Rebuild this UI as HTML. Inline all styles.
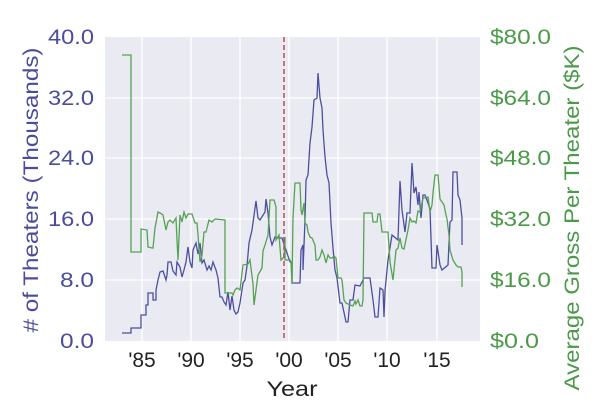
<!DOCTYPE html>
<html><head><style>body{margin:0;background:#fff}svg{display:block}text{font-family:"Liberation Sans",Arial,sans-serif}</style></head>
<body>
<svg width="600" height="420" viewBox="0 0 600 420">
<rect x="105" y="37" width="375" height="304" fill="#eaeaf2"/>
<g stroke="#fff" stroke-width="1.3">
<line x1="105" x2="480" y1="98" y2="98"/><line x1="105" x2="480" y1="158" y2="158"/><line x1="105" x2="480" y1="219" y2="219"/><line x1="105" x2="480" y1="280" y2="280"/>
<line x1="142" x2="142" y1="37" y2="341"/><line x1="191" x2="191" y1="37" y2="341"/><line x1="240" x2="240" y1="37" y2="341"/><line x1="289" x2="289" y1="37" y2="341"/><line x1="338" x2="338" y1="37" y2="341"/><line x1="387" x2="387" y1="37" y2="341"/><line x1="437" x2="437" y1="37" y2="341"/>
</g>
<polyline fill="none" stroke="#4c4fa0" stroke-width="1.3" points="122,333 131,333 131,328 141,328 141,315 146,315 146,305 148,305 148,293 153,293 153,300 156,300 156,290 158,280 160,272 163,271 166,280 167,275 168,262 171,262 173,271 176,275 177,262 180,267 182,277 184,270 186,262 188,247 190,262 192,268 193,250 196,243 198,254 200,243 202,263 204,260 207,270 209,266 211,270 213,262 216,270 218,278 220,297 222,297 224,302 226,305 228,292 230,310 232,296 234,310 236,314 238,312 240,303 243,283 245,280 247,266 249,243 252,230 256,201 258,218 260,220 265,212 266,199 268,213 270,237 272,245 275,237 278,238 282,238 286,250 290,262 292,262 292,283 300,283 301,250 303,245 303,270 305,220 306,180 308,175 310,143 312,127 314,100 317,98 318,73 320,98 322,108 323,130 325,157 327,175 329,183 331,223 333,248 335,270 337,278 340,303 342,303 346,322 348,322 350,300 353,300 355,285 360,286 364,278 370,278 373,300 375,317 378,317 380,288 383,290 384,317 385,291 388,260 392,235 398,240 400,181 402,210 405,232 407,213 410,213 412,163 414,193 416,187 418,205 419,192 421,218 423,195 425,195 428,203 430,209 432,268 436,268 437,245 440,265 442,270 448,265 450,222 452,220 453,172 457,172 458,195 460,200 462,218 462,245"/>
<polyline fill="none" stroke="#55a254" stroke-width="1.3" points="122,55 131,55 131,252 141,252 141,229 147,230 148,247 152,248 153,248 155,228 158,212 160,213 163,215 166,230 168,222 170,220 173,223 176,218 177,240 178,260 180,215 182,222 184,212 186,218 188,214 192,214 195,223 197,223 198,235 200,262 202,255 204,232 206,232 209,220 212,222 215,219 225,220 225,293 232,293 233,295 235,290 237,288 240,290 243,265 248,264 250,260 253,284 254,305 258,275 262,268 263,251 265,245 268,235 270,200 274,200 276,207 276,240 279,235 281,260 284,257 285,237 285,260 290,260 291,262 292,283 293,218 295,183 300,183 301,210 302,215 304,203 305,223 307,225 308,232 310,237 312,238 315,245 316,260 318,260 320,257 322,250 324,255 326,263 328,255 330,258 332,258 334,256 336,258 338,278 341,278 342,280 344,300 346,303 350,305 353,306 355,301 356,304 358,300 360,306 362,306 363,300 364,213 372,213 373,222 377,222 378,214 380,214 382,232 388,232 390,262 393,280 396,250 398,248 400,238 402,248 404,249 408,230 410,218 412,222 414,221 416,223 418,211 420,212 423,198 428,197 430,212 432,205 433,193 435,175 438,175 440,199 444,205 446,215 447,219 449,235 450,250 453,260 456,265 458,267 461,267 462,272 462,287"/>
<line x1="284" x2="284" y1="37" y2="341" stroke="#b5505a" stroke-width="1.5" stroke-dasharray="5,3"/>
<g font-size="21" fill="#4c4c9c" text-anchor="end">
<text x="94" y="44" textLength="46" lengthAdjust="spacingAndGlyphs">40.0</text><text x="94" y="105" textLength="46" lengthAdjust="spacingAndGlyphs">32.0</text><text x="94" y="165" textLength="46" lengthAdjust="spacingAndGlyphs">24.0</text><text x="94" y="226" textLength="46" lengthAdjust="spacingAndGlyphs">16.0</text><text x="94" y="287" textLength="34" lengthAdjust="spacingAndGlyphs">8.0</text><text x="94" y="348" textLength="34" lengthAdjust="spacingAndGlyphs">0.0</text>
</g>
<g font-size="21.5" fill="#4a9a4a">
<text x="490" y="44" textLength="61" lengthAdjust="spacingAndGlyphs">$80.0</text><text x="490" y="105" textLength="61" lengthAdjust="spacingAndGlyphs">$64.0</text><text x="490" y="165" textLength="61" lengthAdjust="spacingAndGlyphs">$48.0</text><text x="490" y="226" textLength="61" lengthAdjust="spacingAndGlyphs">$32.0</text><text x="490" y="287" textLength="61" lengthAdjust="spacingAndGlyphs">$16.0</text><text x="490" y="348" textLength="49" lengthAdjust="spacingAndGlyphs">$0.0</text>
</g>
<g font-size="21" fill="#222" text-anchor="middle">
<text x="142" y="367">'85</text><text x="191" y="367">'90</text><text x="240" y="367">'95</text><text x="289" y="367">'00</text><text x="338" y="367">'05</text><text x="387" y="367">'10</text><text x="437" y="367">'15</text>
<text x="292" y="396" textLength="51" lengthAdjust="spacingAndGlyphs">Year</text>
</g>
<text transform="translate(38,190) rotate(-90)" font-size="21" fill="#4c4c9c" text-anchor="middle" textLength="285" lengthAdjust="spacingAndGlyphs"># of Theaters (Thousands)</text>
<text transform="translate(579,218) rotate(-90)" font-size="21" fill="#4a9a4a" text-anchor="middle" textLength="345" lengthAdjust="spacingAndGlyphs">Average Gross Per Theater ($K)</text>
</svg>
</body></html>
